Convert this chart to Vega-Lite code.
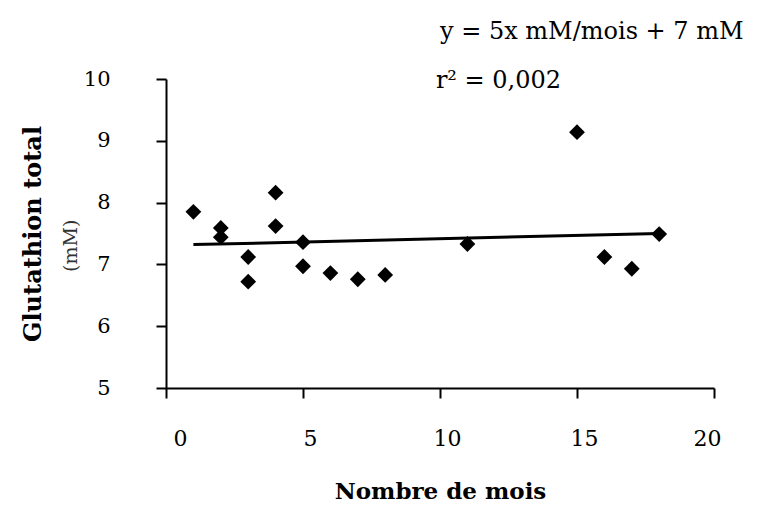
{
  "$schema": "https://vega.github.io/schema/vega-lite/v6.json",
  "width": 548,
  "height": 309,
  "autosize": "none",
  "padding": {"left": 166, "top": 79, "right": 58, "bottom": 120},
  "background": "white",
  "config": {
    "view": {"stroke": null},
    "font": "DejaVu Serif",
    "axis": {
      "domainColor": "black", "domainWidth": 2, "tickColor": "black", "tickWidth": 2,
      "tickSize": 10, "grid": false, "labelColor": "black", "titleColor": "black",
      "labelFont": "DejaVu Serif", "titleFont": "DejaVu Serif"
    }
  },
  "datasets": {
    "pts": [
      {"mois": 1, "gsh": 7.85},
      {"mois": 2, "gsh": 7.59},
      {"mois": 2, "gsh": 7.44},
      {"mois": 3, "gsh": 7.12},
      {"mois": 3, "gsh": 6.72},
      {"mois": 4, "gsh": 8.16},
      {"mois": 4, "gsh": 7.62},
      {"mois": 5, "gsh": 7.36},
      {"mois": 5, "gsh": 6.97},
      {"mois": 6, "gsh": 6.86},
      {"mois": 7, "gsh": 6.76},
      {"mois": 8, "gsh": 6.83},
      {"mois": 11, "gsh": 7.33},
      {"mois": 15, "gsh": 9.14},
      {"mois": 16, "gsh": 7.12},
      {"mois": 17, "gsh": 6.93},
      {"mois": 18, "gsh": 7.49}
    ],
    "fit": [
      {"mois": 1, "gsh": 7.32},
      {"mois": 18, "gsh": 7.5}
    ],
    "notes": [
      {"mois": 10.0, "gsh": 10.76, "label": "y = 5x mM/mois + 7 mM"},
      {"mois": 9.85, "gsh": 9.96, "label": "r² = 0,002"}
    ],
    "unit": [
      {"mois": -3.45, "gsh": 7.3, "label": "(mM)"}
    ]
  },
  "encoding": {
    "x": {
      "field": "mois", "type": "quantitative",
      "scale": {"domain": [0, 20], "nice": false},
      "axis": {
        "values": [0, 5, 10, 15, 20], "title": "Nombre de mois",
        "labelFontSize": 22, "labelPadding": 30, "labelOffset": 7,
        "titleFontSize": 23, "titleFontWeight": "bold", "titlePadding": 31
      }
    },
    "y": {
      "field": "gsh", "type": "quantitative",
      "scale": {"domain": [5, 10], "nice": false, "zero": false},
      "axis": {
        "values": [5, 6, 7, 8, 9, 10], "title": "Glutathion total",
        "labelFontSize": 21, "labelPadding": 46,
        "titleFontSize": 24, "titleFontWeight": "bold", "titlePadding": 38
      }
    }
  },
  "layer": [
    {
      "data": {"name": "fit"},
      "mark": {"type": "line", "color": "black", "strokeWidth": 3}
    },
    {
      "data": {"name": "pts"},
      "mark": {"type": "point", "shape": "diamond", "filled": true, "color": "black", "opacity": 1, "size": 250}
    },
    {
      "data": {"name": "notes"},
      "mark": {"type": "text", "align": "left", "baseline": "middle", "fontSize": 24, "color": "black", "clip": false},
      "encoding": {"text": {"field": "label"}}
    },
    {
      "data": {"name": "unit"},
      "mark": {"type": "text", "align": "center", "baseline": "middle", "fontSize": 19, "angle": 270, "color": "#333", "clip": false},
      "encoding": {"text": {"field": "label"}}
    }
  ]
}
